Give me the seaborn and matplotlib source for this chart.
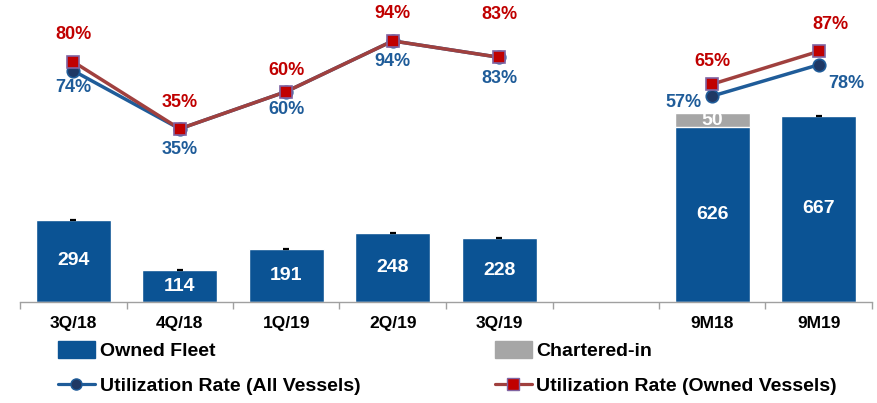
import matplotlib
matplotlib.use("Agg")
import matplotlib.pyplot as plt
from matplotlib.lines import Line2D
from matplotlib.patches import Patch
import numpy as np
import pandas as pd
import seaborn as sns

# chart data
periods = ['3Q/18', '4Q/18', '1Q/19', '2Q/19', '3Q/19', '', '9M18', '9M19']
owned_fleet = [294, 114, 191, 248, 228, np.nan, 626, 667]
chartered_in = [0, 0, 0, 0, 0, np.nan, 50, 0]
util_all = [74, 35, 60, 94, 83, np.nan, 57, 78]
util_owned = [80, 35, 60, 94, 83, np.nan, 65, 87]
segment = [0, 0, 0, 0, 0, -1, 1, 1]

BLUE = '#0B5394'
GRAY = '#A6A6A6'
LINE_BLUE = '#1F5C99'
DOT = '#1F3864'
LINE_RED = '#A0403E'
SQ_RED = '#C00000'
SQ_EDGE = '#8064A2'
TXT_BLUE = '#1F5C99'
TXT_RED = '#C00000'

sns.set_theme(style='white')
plt.rcParams['font.family'] = ['Liberation Sans', 'DejaVu Sans']

df = pd.DataFrame({'period': periods, 'owned': owned_fleet,
                   'chartered': chartered_in, 'all': util_all,
                   'own_util': util_owned, 'seg': segment})
df['pos'] = np.arange(len(df))
df['total'] = df['owned'] + df['chartered']
bars = df.dropna(subset=['owned'])

fig = plt.figure(figsize=(8.78, 4.03), dpi=100)
ax = fig.add_axes([20 / 878, 101 / 403, 852 / 878, 297 / 403])

# stacked bars: total (gray) then owned (blue) on top
sns.barplot(data=bars, x='pos', y='total', native_scale=True, width=0.7,
            color=GRAY, saturation=1, ax=ax, errorbar=None)
sns.barplot(data=bars, x='pos', y='owned', native_scale=True, width=0.7,
            color=BLUE, saturation=1, ax=ax, errorbar=None)

# small black marks at top of bars without chartered vessels
tops = bars[bars['chartered'] == 0]
ax.scatter(tops['pos'], tops['owned'], marker='_', s=16, color='black',
           linewidths=1.6, zorder=3)

for _, r in bars.iterrows():
    ax.text(r['pos'], r['owned'] / 2, f"{int(r['owned'])}", ha='center',
            va='center', color='white', fontsize=14, fontweight='bold')
    if r['chartered'] > 0:
        ax.text(r['pos'], r['owned'] + r['chartered'] / 2, f"{int(r['chartered'])}",
                ha='center', va='center', color='white', fontsize=14,
                fontweight='bold')

ax.set_ylim(0, 1064)
ax.set_xlim(-0.5, 7.5)
ax.set_xlabel('')
ax.set_ylabel('')
ax.set_yticks([])
ax.set_xticks(df['pos'])
ax.set_xticklabels(periods, fontsize=12.5, fontweight='bold', color='black')
ax.set_xticks(np.arange(-0.5, 8, 1), minor=True)
ax.tick_params(axis='x', which='major', length=0, pad=10)
ax.tick_params(axis='x', which='minor', length=5, width=1, color='#A0A0A0',
               direction='out', bottom=True)
for s in ['top', 'left', 'right']:
    ax.spines[s].set_visible(False)
ax.spines['bottom'].set_color('#A0A0A0')
ax.spines['bottom'].set_linewidth(1)

# utilization lines on secondary axis
ax2 = ax.twinx()
lines = df.dropna(subset=['all'])
sns.lineplot(data=lines, x='pos', y='all', units='seg', estimator=None,
             color=LINE_BLUE, lw=2.5, marker='o', markersize=9,
             markerfacecolor=DOT, markeredgecolor=LINE_BLUE, markeredgewidth=1.2,
             ax=ax2, zorder=3)
sns.lineplot(data=lines, x='pos', y='own_util', units='seg', estimator=None,
             color=LINE_RED, lw=2.5, marker='s', markersize=9,
             markerfacecolor=SQ_RED, markeredgecolor=SQ_EDGE, markeredgewidth=1.2,
             ax=ax2, zorder=4)
ax2.set_ylim(-81.2, 118.1)
ax2.set_xlim(-0.5, 7.5)
ax2.set_yticks([])
ax2.set_ylabel('')
ax2.set_xlabel('')
for s in ax2.spines.values():
    s.set_visible(False)

# label offsets in pixels (dx, dy), dy positive = up
all_off = [(0, -17), (0, -21), (0, -18), (0, -21), (0, -21), None, (-29, -6), (28, -19)]
own_off = [(0, 27), (0, 26), (0, 21), (0, 27), (0, 43), None, (0, 23), (12, 27)]
for i, r in lines.iterrows():
    dx, dy = all_off[i]
    ax2.annotate(f"{int(r['all'])}%", (r['pos'], r['all']), xytext=(dx * 0.72, dy * 0.72),
                 textcoords='offset points', ha='center', va='center',
                 color=TXT_BLUE, fontsize=13, fontweight='bold')
    dx, dy = own_off[i]
    ax2.annotate(f"{int(r['own_util'])}%", (r['pos'], r['own_util']),
                 xytext=(dx * 0.72, dy * 0.72), textcoords='offset points',
                 ha='center', va='center', color=TXT_RED, fontsize=13,
                 fontweight='bold')

handles = [
    Patch(facecolor=BLUE, edgecolor=BLUE, label='Owned Fleet'),
    Line2D([0], [0], color=LINE_BLUE, lw=2.3, marker='o', markersize=8,
           markerfacecolor=DOT, markeredgecolor=LINE_BLUE,
           label='Utilization Rate (All Vessels)'),
    Patch(facecolor=GRAY, edgecolor=GRAY, label='Chartered-in'),
    Line2D([0], [0], color=LINE_RED, lw=2.3, marker='s', markersize=8,
           markerfacecolor=SQ_RED, markeredgecolor=SQ_EDGE,
           label='Utilization Rate (Owned Vessels)'),
]
fig.legend(handles=handles, ncol=2, loc='upper left',
           bbox_to_anchor=(58 / 878, 1 - 341 / 403), frameon=False,
           prop={'family': ['Liberation Sans Narrow', 'Liberation Sans'],
                 'weight': 'bold', 'size': 14},
           labelcolor='black',
           handlelength=1.9, handleheight=1.0, handletextpad=0.25,
           columnspacing=6.9, labelspacing=0.8, borderaxespad=0, borderpad=0)

fig.savefig('out.png', dpi=100)
